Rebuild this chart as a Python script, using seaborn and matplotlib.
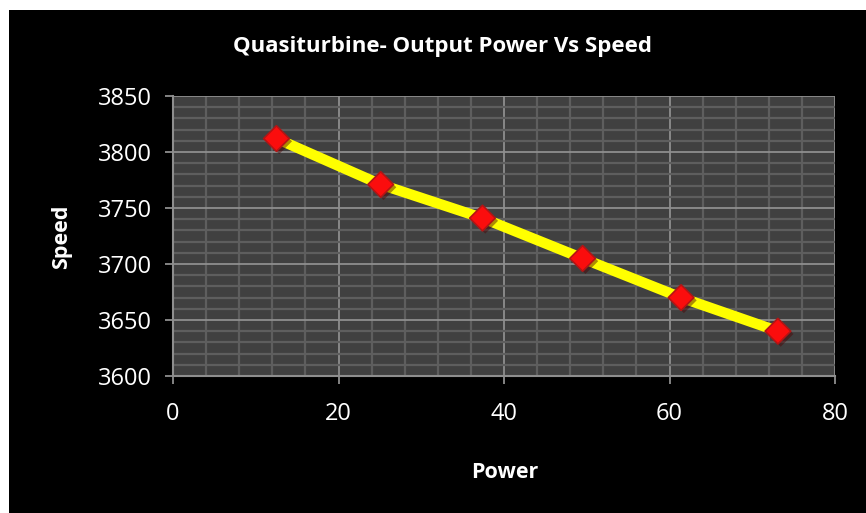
import matplotlib
matplotlib.use("Agg")
import matplotlib.pyplot as plt
import matplotlib.patches as mpatches
import matplotlib.patheffects as pe
from matplotlib.ticker import MultipleLocator
import seaborn as sns
import pandas as pd

power = [12.5, 25.1, 37.4, 49.5, 61.4, 73.1]
speed = [3812, 3771, 3741, 3705, 3670, 3640]
x_ticks = [0, 20, 40, 60, 80]
y_ticks = [3600, 3650, 3700, 3750, 3800, 3850]

title = "Quasiturbine- Output Power Vs Speed"
x_label = "Power"
y_label = "Speed"

sns.set_style("dark")
plt.rcParams['font.family'] = ['Open Sans', 'DejaVu Sans']

fig = plt.figure(figsize=(8.66, 5.13), dpi=100, facecolor="white")
# black chart area (white strip left/top as in reference)
fig.patches.append(mpatches.Rectangle((9 / 866, 0), 1 - 9 / 866, 1 - 10 / 513,
                                      transform=fig.transFigure, facecolor="black",
                                      edgecolor="none", zorder=-10))

ax = fig.add_axes([173 / 866, 1 - 376 / 513, (835 - 173) / 866, (376 - 96) / 513])
ax.set_facecolor("#404040")

df = pd.DataFrame({"Power": power, "Speed": speed})
sns.lineplot(data=df, x="Power", y="Speed", ax=ax, color="#ffff00", linewidth=7.5, zorder=3)
sns.scatterplot(data=df, x="Power", y="Speed", ax=ax, marker="D", s=170,
                color="#fb0d0d", edgecolor="#b41414", linewidth=1.2, zorder=4,
                path_effects=[pe.SimplePatchShadow(offset=(2, -2), alpha=0.45), pe.Normal()])

ax.set_xlim(0, 80)
ax.set_ylim(3600, 3850)
ax.set_xticks(x_ticks)
ax.set_yticks(y_ticks)
ax.xaxis.set_minor_locator(MultipleLocator(4))
ax.yaxis.set_minor_locator(MultipleLocator(10))

ax.grid(which="minor", color="#5e5e5e", linewidth=1.6, zorder=0)
ax.grid(which="major", color="#8e8e8e", linewidth=1.3, zorder=0)
ax.set_axisbelow(True)

for s in ["top", "right"]:
    ax.spines[s].set_visible(False)
for s in ["left", "bottom"]:
    ax.spines[s].set_visible(True)
    ax.spines[s].set_color("#8e8e8e")
    ax.spines[s].set_linewidth(1.5)

ax.tick_params(axis="both", which="major", direction="out", length=6, width=1.3,
               color="#8e8e8e", labelcolor="white", labelsize=17, left=True, bottom=True)
ax.tick_params(axis="y", pad=9)
ax.tick_params(axis="x", pad=13)
ax.tick_params(which="minor", length=0)

ax.set_xlabel("")
ax.set_ylabel("")
fig.text(443 / 866, 1 - 47 / 513, title, ha="center", va="center", color="white",
         fontsize=16, fontweight="bold")
fig.text(505 / 866, 1 - 472 / 513, x_label, ha="center", va="center", color="white",
         fontsize=15.5, fontweight="bold")
fig.text(62 / 866, 1 - 237 / 513, y_label, ha="center", va="center", color="white",
         fontsize=15.5, fontweight="bold", rotation=90)

fig.savefig("out.png", dpi=100, facecolor=fig.get_facecolor())
